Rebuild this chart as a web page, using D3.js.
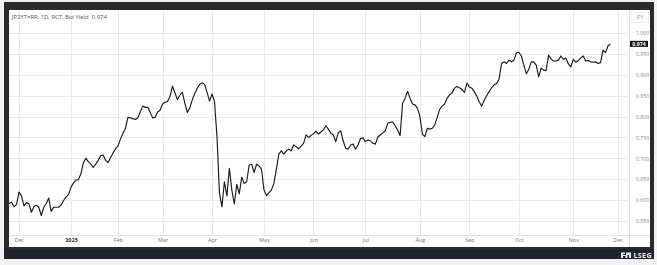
<!DOCTYPE html>
<html><head><meta charset="utf-8">
<script src="https://cdn.jsdelivr.net/npm/d3@7"></script>
<style>html,body{margin:0;padding:0;background:#f1f1f1;}svg{display:block;}</style>
</head><body>
<svg id="chart" width="657" height="265"></svg>
<script>
// ---- data ----
const titleText = "JP2YT=RR, 1D, RCT, Bid Yield";
const lastValueText = "0.974";
const currencyText = "JPY";
const brandText = "LSEG";
// trading calendar (JGB market): weekdays minus Japanese market holidays
const startDate = "2024-11-26";
const endDate = "2025-12-05";
const holidays = ["2024-12-31","2025-01-01","2025-01-02","2025-01-03","2025-01-13","2025-02-11","2025-02-24",
  "2025-03-20","2025-04-29","2025-05-05","2025-05-06","2025-07-21","2025-08-11","2025-09-15","2025-09-23",
  "2025-10-13","2025-11-03","2025-11-24"];
const yTicks = [0.55,0.60,0.65,0.70,0.75,0.80,0.85,0.90,0.95,1.00];
// daily bid yield (%), one value per trading day from 2024-11-26
const yields = [
0.592,0.595,0.584,0.590,0.619,0.610,0.586,0.594,0.591,0.571,
0.584,0.588,0.583,0.563,0.583,0.592,0.605,0.573,0.583,0.583,
0.583,0.588,0.599,0.607,0.613,0.631,0.641,0.648,0.649,0.663,
0.689,0.700,0.692,0.686,0.678,0.686,0.695,0.706,0.708,0.695,
0.690,0.702,0.713,0.723,0.730,0.746,0.760,0.772,0.798,0.797,
0.795,0.793,0.797,0.811,0.825,0.822,0.822,0.810,0.797,0.798,
0.811,0.815,0.830,0.834,0.836,0.848,0.873,0.857,0.841,0.851,
0.858,0.832,0.810,0.820,0.840,0.855,0.867,0.877,0.881,0.877,
0.858,0.837,0.854,0.835,0.752,0.616,0.584,0.644,0.610,0.676,
0.624,0.591,0.638,0.615,0.655,0.640,0.644,0.684,0.686,0.666,
0.686,0.682,0.674,0.624,0.611,0.618,0.624,0.640,0.674,0.710,
0.718,0.710,0.718,0.722,0.718,0.732,0.728,0.723,0.729,0.736,
0.756,0.750,0.755,0.759,0.765,0.758,0.763,0.768,0.778,0.770,
0.760,0.756,0.740,0.761,0.766,0.742,0.724,0.722,0.732,0.734,
0.722,0.732,0.748,0.749,0.740,0.744,0.742,0.736,0.734,0.751,
0.756,0.761,0.766,0.784,0.786,0.787,0.778,0.768,0.754,0.832,
0.844,0.860,0.844,0.830,0.828,0.820,0.800,0.758,0.752,0.772,
0.770,0.772,0.780,0.798,0.817,0.825,0.830,0.844,0.852,0.857,
0.868,0.872,0.869,0.865,0.858,0.880,0.871,0.868,0.859,0.849,
0.835,0.825,0.839,0.850,0.860,0.869,0.876,0.879,0.890,0.927,
0.931,0.927,0.935,0.931,0.935,0.952,0.954,0.945,0.923,0.902,
0.913,0.931,0.931,0.923,0.895,0.916,0.911,0.910,0.947,0.938,
0.933,0.933,0.935,0.945,0.937,0.940,0.926,0.919,0.937,0.930,
0.934,0.940,0.945,0.933,0.934,0.931,0.930,0.931,0.927,0.929,
0.959,0.953,0.969,0.974];

// ---- calendar ----
const parse = d3.utcParse("%Y-%m-%d"), fmt = d3.utcFormat("%Y-%m-%d");
const hol = new Set(holidays);
const days = d3.utcDays(parse(startDate), d3.utcDay.offset(parse(endDate), 1))
  .filter(d => d.getUTCDay() % 6 !== 0 && !hol.has(fmt(d)));
const data = yields.map((v, i) => ({i, date: days[i], v}));
const monthTicks = days.map((d, i) => i).filter(i => i > 0 && days[i].getUTCMonth() !== days[i-1].getUTCMonth());
const tickLabel = i => days[i].getUTCMonth() === 0 ? d3.utcFormat("%Y")(days[i]) : d3.utcFormat("%b")(days[i]);

// ---- layout ----
const svg = d3.select("#chart");
const P = {l: 9, r: 629, t: 10, b: 235, wr: 650, wb: 247};
const font = "'Open Sans', 'Noto Sans', sans-serif";

svg.append("rect").attr("x", 4).attr("y", 2).attr("width", 650).attr("height", 257).attr("fill", "#2a2a2a");
svg.append("rect").attr("x", 4).attr("y", 249).attr("width", 650).attr("height", 10).attr("fill", "#1d2330");
svg.append("rect").attr("x", P.l).attr("y", P.t).attr("width", P.wr - P.l).attr("height", P.wb - P.t).attr("fill", "#ffffff");

const x = d3.scaleLinear().domain([-0.05, 250.5]).range([P.l, P.r]);
const y = d3.scaleLinear().domain([0.55, 1.0]).range([221, 33]);

// grid
const grid = svg.append("g").attr("stroke", "#e9e9e9").attr("stroke-width", 0.9);
grid.selectAll(".h").data(yTicks).join("line")
  .attr("x1", P.l).attr("x2", P.r).attr("y1", d => Math.round(y(d)) + 0.5).attr("y2", d => Math.round(y(d)) + 0.5);
grid.selectAll(".v").data(monthTicks).join("line")
  .attr("y1", P.t).attr("y2", P.b).attr("x1", d => Math.round(x(d)) + 0.5).attr("x2", d => Math.round(x(d)) + 0.5);
// separators
svg.append("line").attr("x1", P.l).attr("x2", P.wr).attr("y1", P.b + 0.5).attr("y2", P.b + 0.5).attr("stroke", "#e4e4e4");
svg.append("line").attr("x1", P.r + 0.5).attr("x2", P.r + 0.5).attr("y1", P.t).attr("y2", P.wb).attr("stroke", "#e4e4e4");

// x axis
const xAxis = svg.append("g").attr("transform", `translate(0,${P.b})`)
  .call(d3.axisBottom(x).tickValues(monthTicks).tickFormat(tickLabel).tickSize(0).tickPadding(3.5));
xAxis.select(".domain").remove();
xAxis.selectAll("text").attr("font-family", font).attr("font-size", 5.5)
  .attr("font-weight", d => days[d].getUTCMonth() === 0 ? "bold" : "normal")
  .attr("fill", d => days[d].getUTCMonth() === 0 ? "#333" : "#777");

// y axis (right)
const yAxis = svg.append("g").attr("transform", `translate(${P.r},0)`)
  .call(d3.axisRight(y).tickValues(yTicks).tickFormat(d3.format(".3f")).tickSize(0).tickPadding(7));
yAxis.select(".domain").remove();
yAxis.selectAll("text").attr("font-family", font).attr("font-size", 5.2).attr("fill", "#888");

// line
svg.append("defs").append("clipPath").attr("id", "clip").append("rect")
  .attr("x", P.l).attr("y", P.t).attr("width", P.r - P.l).attr("height", P.b - P.t);
svg.append("path").datum(data).attr("clip-path", "url(#clip)")
  .attr("fill", "none").attr("stroke", "#1b1b1b").attr("stroke-width", 1.15).attr("stroke-linejoin", "round")
  .attr("d", d3.line().x(d => x(d.i)).y(d => y(d.v)));

// last value tag
const last = data[data.length - 1];
svg.append("rect").attr("x", 630).attr("y", y(last.v) - 3).attr("width", 18).attr("height", 6).attr("fill", "#111");
svg.append("text").attr("x", 639).attr("y", y(last.v)).attr("dy", "0.35em").attr("text-anchor", "middle")
  .attr("font-family", font).attr("font-size", 5.2).attr("font-weight", "bold").attr("fill", "#fff").text(lastValueText);

// currency box
svg.append("rect").attr("x", 631.5).attr("y", 12.5).attr("width", 17).attr("height", 10)
  .attr("fill", "#fff").attr("stroke", "#e6e6e6").attr("stroke-width", 0.6);
svg.append("text").attr("x", 640).attr("y", 17.6).attr("dy", "0.35em").attr("text-anchor", "middle")
  .attr("font-family", font).attr("font-size", 4.8).attr("fill", "#999").text(currencyText);

// title
svg.append("text").attr("x", 12).attr("y", 17).attr("dy", "0.35em")
  .attr("font-family", font).attr("font-size", 5.9).attr("fill", "#555")
  .text(titleText + "  " + lastValueText).attr("xml:space", "preserve").style("white-space", "pre");

// brand
const logo = svg.append("g").attr("fill", "#e8e8ee");
logo.append("path").attr("d", "M621,252.5 h4 v1.5 h-2 v1 h3 v-2.5 h5 v5.5 h-2 v-3 h-1.5 v3 h-2 v-2 h-2.5 v2 h-2 z");
svg.append("text").attr("x", 633.5).attr("y", 257.8)
  .attr("font-family", font).attr("font-size", 7).attr("font-weight", "bold").attr("letter-spacing", 0.4)
  .attr("fill", "#eef0f4").text(brandText);
</script>
</body></html>
